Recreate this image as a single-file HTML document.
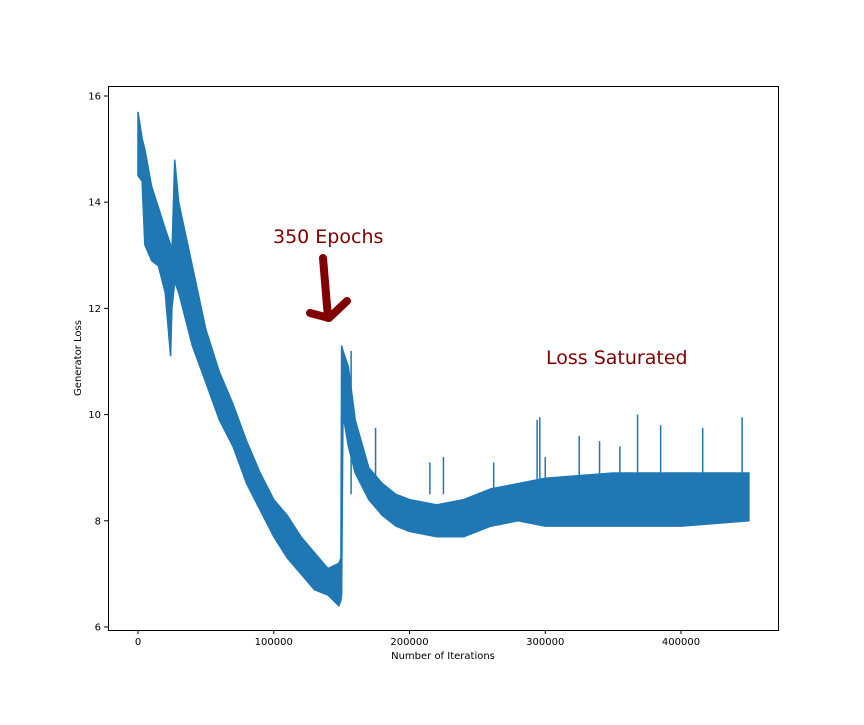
<!DOCTYPE html>
<html><head><meta charset="utf-8"><style>
body{margin:0;background:#fff;}
svg text{font-family:"DejaVu Sans","Liberation Sans",sans-serif;}
</style></head><body>
<svg id="chart" width="864" height="720" viewBox="0 0 864 720" xmlns="http://www.w3.org/2000/svg">
<rect width="864" height="720" fill="#fff"/>
<g id="plot"></g>
<rect x="108.5" y="86.5" width="670" height="544" fill="none" stroke="#000" stroke-width="1"/>
<g id="xt"></g><g id="yt"></g>
<text x="443" y="659" font-size="10" text-anchor="middle">Number of Iterations</text>
<text x="81" y="358" font-size="10" text-anchor="middle" transform="rotate(-90 81 358)">Generator Loss</text>
<text x="273" y="243" font-size="19" fill="#800000">350 Epochs</text>
<text x="546" y="364" font-size="19" fill="#800000">Loss Saturated</text>
<path d="M323,258 L328,318 M310,313 L329,318 L347,301" stroke="#800000" stroke-width="8" stroke-linecap="round" stroke-linejoin="round" fill="none"/>
</svg>
<script>
const iters = [0,3,5,10,15,20,24,25,27,30,40,50,60,70,80,90,100,110,120,130,140,148,149.5,150,151,155,160,170,180,190,200,220,240,260,280,300,350,400,450];
const hiVals = [15.7,15.2,15.0,14.3,13.9,13.5,13.2,13.0,14.8,14.0,12.8,11.6,10.8,10.2,9.5,8.9,8.4,8.1,7.7,7.4,7.1,7.2,7.3,11.3,11.2,10.9,9.9,9.0,8.7,8.5,8.4,8.3,8.4,8.6,8.7,8.8,8.9,8.9,8.9];
const loVals = [14.5,14.4,13.2,12.9,12.8,12.3,11.1,12.0,12.5,12.3,11.3,10.6,9.9,9.4,8.7,8.2,7.7,7.3,7.0,6.7,6.6,6.4,6.5,6.6,10.0,9.4,8.9,8.4,8.1,7.9,7.8,7.7,7.7,7.9,8.0,7.9,7.9,7.9,8.0];
const spikeIters = [157,175,215,225,262,294,296,300,325,340,355,368,385,416,445];
const spikeVals = [11.2,9.75,9.1,9.2,9.1,9.9,9.95,9.2,9.6,9.5,9.4,10.0,9.8,9.75,9.95];
const xTicks = [0,100000,200000,300000,400000];
const yTicks = [6,8,10,12,14,16];

const NS="http://www.w3.org/2000/svg";
const X = v => 138 + v/100000*135.75;
const Y = v => 627 - (v-6)*53.1;
const plot=document.getElementById('plot');
let d="M"+iters.map((k,i)=>X(k*1000).toFixed(1)+","+Y(hiVals[i]).toFixed(1)).join(" L");
for(let i=iters.length-1;i>=0;i--) d+=" L"+X(iters[i]*1000).toFixed(1)+","+Y(loVals[i]).toFixed(1);
d+=" Z";
const band=document.createElementNS(NS,'path');


band.setAttribute('d',d);band.setAttribute('fill','#1f77b4');band.setAttribute('stroke','#1f77b4');band.setAttribute('stroke-width','1.5');
plot.appendChild(band);
spikeIters.forEach((k,i)=>{
  const l=document.createElementNS(NS,'line');
  
  
  l.setAttribute('x1',X(k*1000));l.setAttribute('x2',X(k*1000));
  l.setAttribute('y1',Y(8.5));l.setAttribute('y2',Y(spikeVals[i]));
  l.setAttribute('stroke','#1f77b4');l.setAttribute('stroke-width','1.5');
  plot.appendChild(l);
});
const xt=document.getElementById('xt');
xTicks.forEach(v=>{
  const l=document.createElementNS(NS,'line');
  
  
  l.setAttribute('x1',X(v));l.setAttribute('x2',X(v));l.setAttribute('y1',630);l.setAttribute('y2',634);l.setAttribute('stroke','#000');
  xt.appendChild(l);
  const t=document.createElementNS(NS,'text');
  
  
  t.setAttribute('x',X(v));t.setAttribute('y',645);t.setAttribute('font-size','10');t.setAttribute('text-anchor','middle');
  t.textContent=String(v);xt.appendChild(t);
});
const yt=document.getElementById('yt');
yTicks.forEach(v=>{
  const l=document.createElementNS(NS,'line');
  
  
  l.setAttribute('x1',104);l.setAttribute('x2',108);l.setAttribute('y1',Y(v));l.setAttribute('y2',Y(v));l.setAttribute('stroke','#000');
  yt.appendChild(l);
  const t=document.createElementNS(NS,'text');
  
  
  t.setAttribute('x',101);t.setAttribute('y',Y(v)+3.5);t.setAttribute('font-size','10');t.setAttribute('text-anchor','end');
  t.textContent=String(v);yt.appendChild(t);
});
</script>
</body></html>
